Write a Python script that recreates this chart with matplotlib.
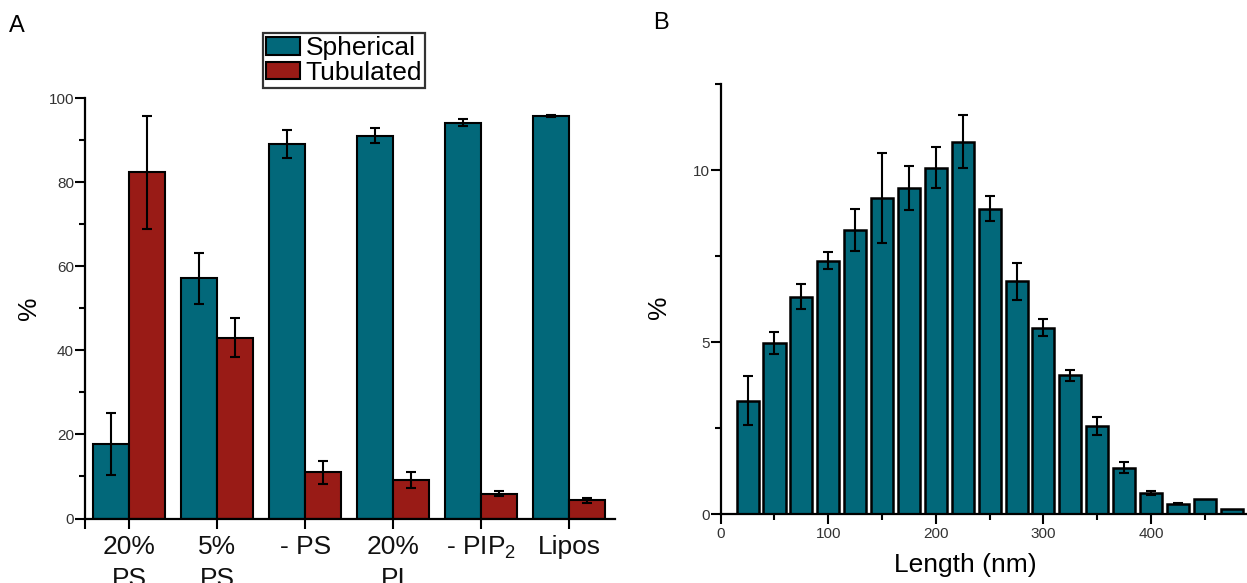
import numpy as np
import matplotlib
matplotlib.use("Agg")
import matplotlib.pyplot as plt
from matplotlib.patches import Patch
from matplotlib.ticker import MultipleLocator

plt.rcParams['font.family'] = ['Liberation Sans', 'DejaVu Sans']
plt.rcParams['mathtext.fontset'] = 'custom'
plt.rcParams['mathtext.rm'] = 'Liberation Sans'
plt.rcParams['mathtext.it'] = 'Liberation Sans'

# ---------------- Data ----------------
categories = ["20%\nPS", "5%\nPS", "- PS", "20%\nPI", "- PIP$_2$", "Lipos"]
spherical = [17.8, 57.1, 89.0, 91.0, 94.1, 95.7]
spherical_err = [7.4, 6.0, 3.3, 1.8, 0.8, 0.2]
tubulated = [82.3, 43.0, 10.95, 9.2, 5.9, 4.3]
tubulated_err = [13.4, 4.7, 2.7, 1.9, 0.65, 0.5]

length_nm = [25, 50, 75, 100, 125, 150, 175, 200, 225, 250, 275, 300,
             325, 350, 375, 400, 425, 450, 475]
length_pct = [3.29, 4.97, 6.32, 7.36, 8.26, 9.18, 9.47, 10.07, 10.82, 8.87,
              6.77, 5.42, 4.04, 2.55, 1.35, 0.60, 0.30, 0.44, 0.15]
length_err = [0.71, 0.31, 0.37, 0.25, 0.62, 1.31, 0.64, 0.60, 0.77, 0.36,
              0.54, 0.26, 0.16, 0.26, 0.17, 0.06, 0.02, 0.0, 0.0]

TEAL = '#02687A'
RED = '#991B16'
TICKC = '#333333'

W, H = 1247, 583
fig = plt.figure(figsize=(W / 100, H / 100), dpi=100)

def style_axes(ax):
    for s in ['top', 'right']:
        ax.spines[s].set_visible(False)
    for s in ['left', 'bottom']:
        ax.spines[s].set_linewidth(1.6)
    ax.tick_params(which='major', length=7, width=1.5, direction='out', color='black')
    ax.tick_params(which='minor', length=4, width=1.5, direction='out', color='black')

# ---------------- Panel A ----------------
axA = fig.add_axes([85 / W, 1 - 518.5 / H, 530 / W, 420.5 / H])
x = np.arange(1, len(categories) + 1)
bw = 0.41
axA.bar(x - bw / 2, spherical, bw, color=TEAL, edgecolor='black', linewidth=1.5, zorder=2)
axA.bar(x + bw / 2, tubulated, bw, color=RED, edgecolor='black', linewidth=1.5, zorder=2)
axA.errorbar(x - bw / 2, spherical, yerr=spherical_err, fmt='none', ecolor='black',
             elinewidth=1.5, capsize=3.8, capthick=1.5, zorder=3)
axA.errorbar(x + bw / 2, tubulated, yerr=tubulated_err, fmt='none', ecolor='black',
             elinewidth=1.5, capsize=3.8, capthick=1.5, zorder=3)
axA.set_xlim(0.5, 6.52)
axA.set_ylim(0, 100)
style_axes(axA)
axA.set_xticks(list(x))
axA.set_xticklabels(categories, fontsize=19, linespacing=1.4)
axA.set_xticks([0.5], minor=True)
axA.tick_params(axis='x', which='major', pad=5, labelcolor='#111111')
axA.tick_params(axis='x', which='minor', length=7)
axA.yaxis.set_major_locator(MultipleLocator(20))
axA.yaxis.set_minor_locator(MultipleLocator(10))
axA.tick_params(axis='y', which='major', labelsize=11, pad=1, labelcolor=TICKC)
axA.set_ylabel('%', fontsize=19)
axA.yaxis.set_label_coords(-0.083, 0.5)

handles = [Patch(facecolor=TEAL, edgecolor='black', linewidth=1.5, label='Spherical'),
           Patch(facecolor=RED, edgecolor='black', linewidth=1.5, label='Tubulated')]
leg = fig.legend(handles=handles, loc='upper left', bbox_to_anchor=(263 / W, 1 - 33 / H),
                 fontsize=19, frameon=True, fancybox=False, borderaxespad=0,
                 handlelength=1.3, handleheight=0.65, handletextpad=0.2,
                 labelspacing=0.02, borderpad=0.12)
leg.get_frame().set_edgecolor('black')
leg.get_frame().set_linewidth(1.6)

# ---------------- Panel B ----------------
axB = fig.add_axes([720.7 / W, 1 - 514 / H, 525 / W, 430 / H])
axB.bar(length_nm, length_pct, 20.5, color=TEAL, edgecolor='black', linewidth=1.8, zorder=2)
err_arr = np.array(length_err)
mask = err_arr > 0
axB.errorbar(np.array(length_nm)[mask], np.array(length_pct)[mask], yerr=err_arr[mask],
             fmt='none', ecolor='black', elinewidth=1.5, capsize=3.8, capthick=1.5, zorder=3)
axB.set_xlim(0, 488)
axB.set_ylim(0, 12.5)
style_axes(axB)
axB.xaxis.set_major_locator(MultipleLocator(100))
axB.xaxis.set_minor_locator(MultipleLocator(50))
axB.yaxis.set_major_locator(MultipleLocator(5))
axB.yaxis.set_minor_locator(MultipleLocator(2.5))
axB.tick_params(axis='both', which='major', labelsize=11, pad=2, labelcolor=TICKC)
axB.tick_params(axis='y', which='major', pad=1)
axB.set_ylabel('%', fontsize=19)
axB.yaxis.set_label_coords(-0.094, 0.48)
axB.set_xlabel('Length (nm)', fontsize=19)
axB.xaxis.set_label_coords(0.465, -0.091)

fig.text(9 / W, 1 - 15 / H, 'A', fontsize=17, ha='left', va='top')
fig.text(653 / W, 1 - 12 / H, 'B', fontsize=17, ha='left', va='top')

fig.savefig('out.png', dpi=100)
